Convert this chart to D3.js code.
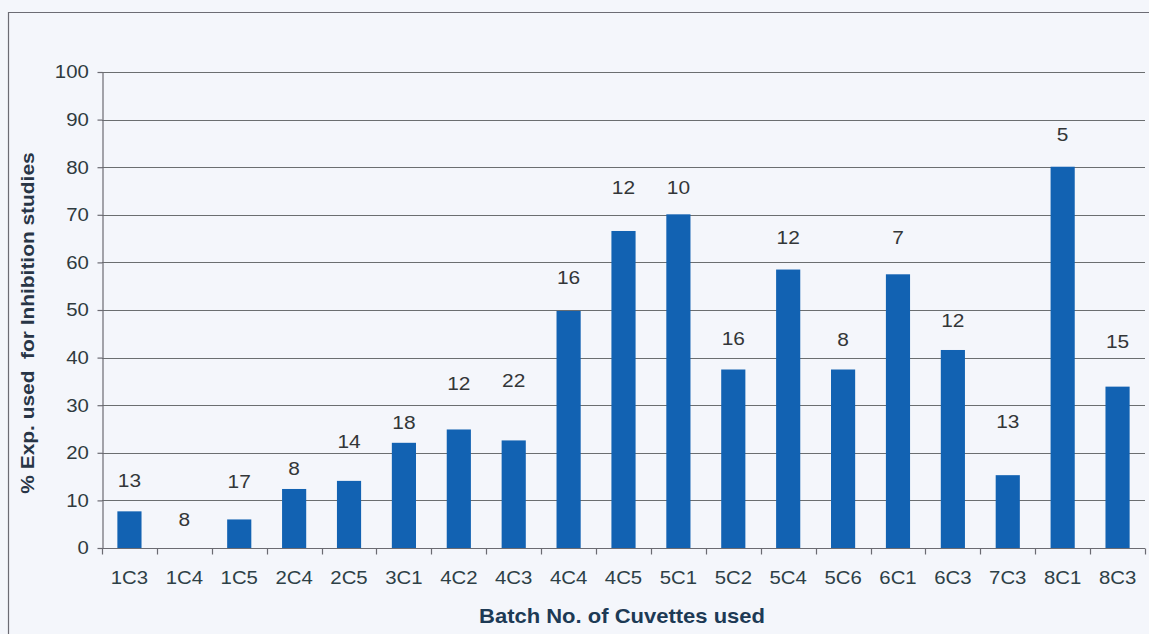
<!DOCTYPE html>
<html>
<head>
<meta charset="utf-8">
<script src="https://cdn.jsdelivr.net/npm/d3@7"></script>
<style>
  html, body { margin: 0; padding: 0; background: #f4f6fb; }
  svg { display: block; font-family: "Liberation Sans", Arial, sans-serif; }
</style>
</head>
<body>
<svg id="chart" width="1149" height="634"></svg>
<script>
// Cuvette batches
const batches = ["1C3", "1C4", "1C5", "2C4", "2C5", "3C1", "4C2", "4C3", "4C4", "4C5",
                 "5C1", "5C2", "5C4", "5C6", "6C1", "6C3", "7C3", "8C1", "8C3"];
// % of experiments used for inhibition studies
const pctUsed = [7.7, 0, 6.0, 12.4, 14.1, 22.1, 24.9, 22.6, 49.8, 66.6,
                 70.1, 37.5, 58.5, 37.5, 57.5, 41.6, 15.3, 80.1, 33.9];
// number of experiments per batch
const expCount = [13, 8, 17, 8, 14, 18, 12, 22, 16, 12, 10, 16, 12, 8, 7, 12, 13, 5, 15];
// level (in % units) at which each count is printed
const countLevel = [14.3, 6.1, 14.1, 16.8, 22.5, 26.5, 34.5, 35.3, 56.9, 75.8,
                    75.8, 44.1, 65.3, 43.9, 65.3, 47.9, 26.7, 87.0, 43.5];
const yTicks = [0, 10, 20, 30, 40, 50, 60, 70, 80, 90, 100];

const svg = d3.select("#chart");
const plot = { left: 102, right: 1145, top: 72, bottom: 548 };
const wide = "scale(1.1,1)";   // slightly widened lettering

// outer frame
svg.append("path")
  .attr("d", "M8.5,634 L8.5,12.5 L1149,12.5")
  .attr("fill", "none").attr("stroke", "#6c6c74").attr("stroke-width", 1.2);

const x = d3.scaleBand()
  .domain(batches)
  .range([plot.left, plot.right])
  .paddingInner(0.56)
  .paddingOuter(0.28);

const y = d3.scaleLinear()
  .domain([0, 100])
  .range([plot.bottom, plot.top]);

// gridlines
svg.append("g")
  .selectAll("line")
  .data(yTicks.filter(d => d > 0))
  .join("line")
  .attr("x1", plot.left).attr("x2", plot.right)
  .attr("y1", d => Math.round(y(d)) + 0.5).attr("y2", d => Math.round(y(d)) + 0.5)
  .attr("stroke", "#6b6e70").attr("stroke-width", 1.1);

// bars
svg.append("g")
  .selectAll("rect")
  .data(batches.map((b, i) => ({ b, v: pctUsed[i] })))
  .join("rect")
  .attr("x", d => x(d.b))
  .attr("width", x.bandwidth())
  .attr("y", d => y(d.v))
  .attr("height", d => y(0) - y(d.v))
  .attr("fill", "#1262b2");

// y axis
const yAxis = svg.append("g")
  .attr("transform", `translate(${plot.left + 0.5},0)`)
  .call(d3.axisLeft(y).tickValues(yTicks).tickSize(5).tickPadding(8).tickSizeOuter(0));
yAxis.select(".domain").attr("stroke", "#6b6b72").attr("stroke-width", 1.2);
yAxis.selectAll(".tick line").attr("stroke", "#6b6b72").attr("stroke-width", 1.2);
yAxis.selectAll(".tick text")
  .attr("x", -12.5)
  .attr("transform", wide)
  .attr("font-size", 18.5).attr("fill", "#2f3a3e")
  .attr("font-family", "'Liberation Sans', Arial, sans-serif");

// x axis
const xAxis = svg.append("g")
  .attr("transform", `translate(0,${Math.round(y(0)) + 0.5})`)
  .call(d3.axisBottom(x).tickSize(0).tickPadding(22).tickSizeOuter(0));
xAxis.select(".domain").attr("d", `M${plot.left},0H${plot.right}`)
  .attr("stroke", "#6b6b72").attr("stroke-width", 1.2);
xAxis.selectAll(".tick text")
  .attr("transform", wide)
  .attr("font-size", 18.5).attr("fill", "#2d4046")
  .attr("font-family", "'Liberation Sans', Arial, sans-serif");

// category separators below the axis
const step = x.step();
const gap = (step - x.bandwidth()) / 2;
const sepX = batches.map(b => x(b) - gap).concat([x(batches[batches.length - 1]) + x.bandwidth() + gap]);
xAxis.append("g")
  .selectAll("line")
  .data(sepX)
  .join("line")
  .attr("x1", d => Math.round(d) + 0.5).attr("x2", d => Math.round(d) + 0.5)
  .attr("y1", 0).attr("y2", 6)
  .attr("stroke", "#6b6b72").attr("stroke-width", 1.2);

// count labels
svg.append("g")
  .selectAll("text")
  .data(batches.map((b, i) => ({ b, n: expCount[i], lv: countLevel[i] })))
  .join("text")
  .attr("transform", d => `translate(${x(d.b) + x.bandwidth() / 2},${y(d.lv)}) ${wide}`)
  .attr("dy", "0.35em")
  .attr("text-anchor", "middle")
  .attr("font-size", 19)
  .attr("fill", "#333638")
  .text(d => d.n);

// axis titles
svg.append("text")
  .attr("transform", `translate(622,616) ${wide}`)
  .attr("dy", "0.35em")
  .attr("text-anchor", "middle")
  .attr("font-size", 20).attr("font-weight", "bold")
  .attr("fill", "#1d3a55")
  .text("Batch No. of Cuvettes used");

svg.append("text")
  .attr("transform", `translate(27,323) rotate(-90) ${wide}`)
  .attr("dy", "0.35em")
  .attr("text-anchor", "middle")
  .attr("font-size", 19).attr("font-weight", "bold")
  .attr("fill", "#283546")
  .style("white-space", "pre")
  .text("% Exp. used  for Inhibition studies");
</script>
</body>
</html>
